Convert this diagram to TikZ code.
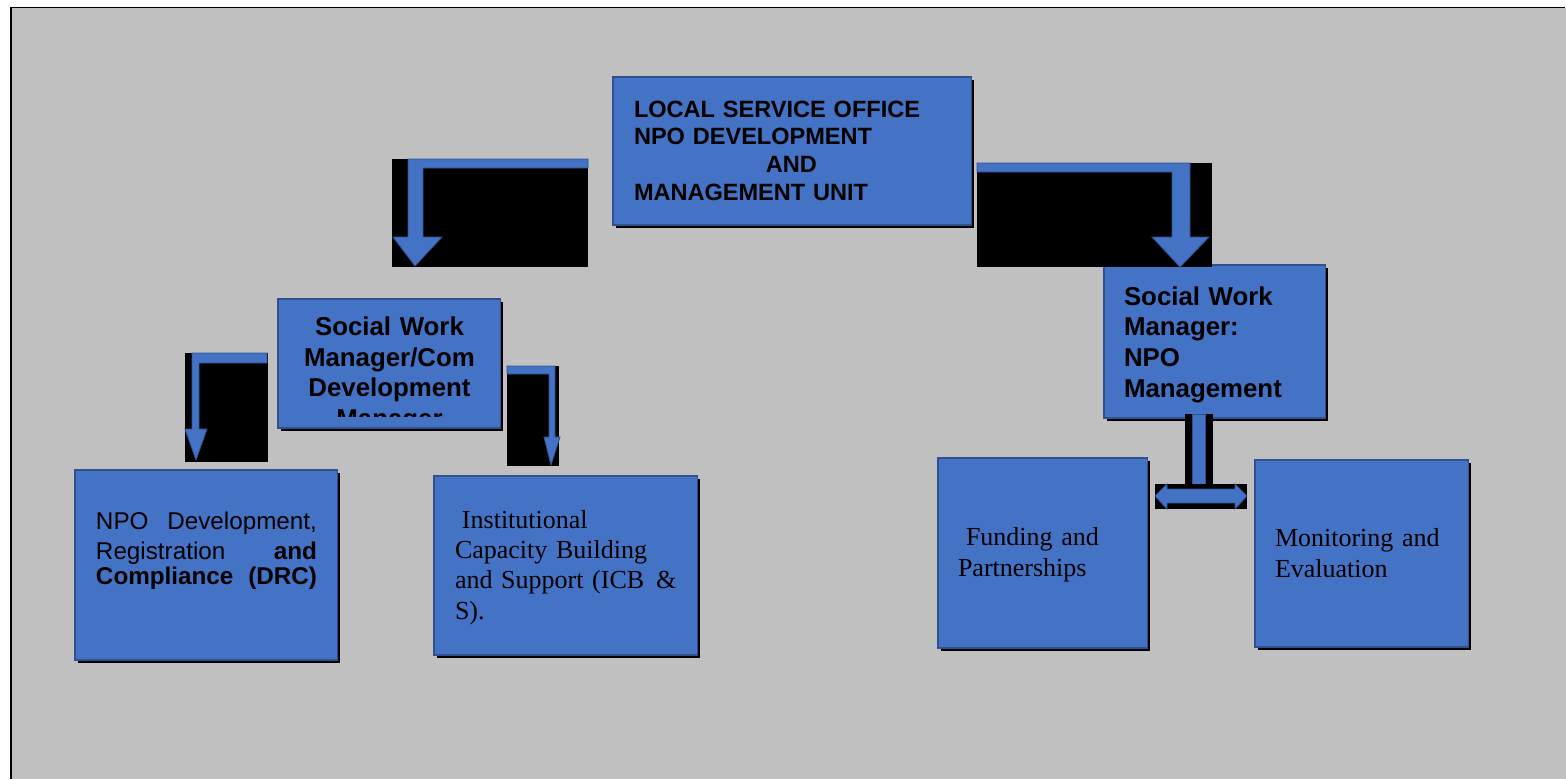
\documentclass[tikz,border=0pt]{standalone}
\usepackage{fontspec}
\setmainfont{Liberation Serif}
\setsansfont{Liberation Sans}
\usetikzlibrary{shadows}
\definecolor{UnitBlue}{HTML}{4472C4}
\definecolor{UnitEdge}{HTML}{2F528F}
\definecolor{SlideGray}{HTML}{C0C0C0}
\tikzset{
  unit/.style={draw=UnitEdge,fill=UnitBlue,line width=0.6pt,anchor=north west,
    inner ysep=0pt,outer sep=0pt,align=left,
    drop shadow={fill=black,opacity=1,shadow xshift=0.05cm,shadow yshift=-0.06cm}},
  backing/.style={fill=black,anchor=north west,inner sep=0pt,outer sep=0pt},
  blockarrow/.style={fill=UnitBlue,draw=UnitEdge,line width=0.5pt,line join=miter},
  headfont/.style={font=\sffamily\bfseries\fontsize{13.4}{15.9}\selectfont},
  mgrfont/.style={font=\sffamily\bfseries\fontsize{14.7}{17.5}\selectfont},
  plainsans/.style={font=\sffamily\fontsize{13.8}{17.6}\selectfont},
  plainserif/.style={font=\rmfamily\fontsize{14.8}{17.3}\selectfont}
}
\begin{document}
\begin{tikzpicture}[x=0.02cm,y=-0.02cm]
    \useasboundingbox (0,0) rectangle (1566,779);
    \fill[white] (0,0) rectangle (1566,779);
    \fill[SlideGray] (11,8) rectangle (1566,779);
    \draw[line width=1pt] (11,779) -- (11,7.5) -- (1565,7.5);

    \node[unit,headfont,inner xsep=0.42cm,text width=6.34cm,
          text height=0.8cm,text depth=2.16cm]
      (office) at (613,77) {LOCAL SERVICE OFFICE\\NPO DEVELOPMENT\\\hspace*{2.64cm}AND\\MANAGEMENT UNIT};
    \node[unit,inner sep=0pt,minimum width=4.46cm,minimum height=2.58cm]
      (devmgr) at (278,299) {};
    \begin{scope}
      \clip (devmgr.north west) rectangle ([yshift=-2.36cm]devmgr.north east);
      \node[mgrfont,anchor=north,align=center,inner sep=0pt,text width=4.46cm,text height=0.72cm]
        (devmgrtext) at (devmgr.north) {Social Work\\Manager/Com\\Development\\Manager};
    \end{scope}
    \node[unit,mgrfont,inner xsep=0.4cm,text width=3.64cm,
          text height=0.8cm,text depth=2.26cm]
      (npomgr) at (1104,265) {Social Work\\Manager:\\NPO\\Management};
    \node[unit,plainsans,inner xsep=0.42cm,text width=4.42cm,
          text height=1.18cm,text depth=2.62cm]
      (drc) at (75,470) {NPO\hfill Development,\\Registration\hfill\textbf{and}\\[-0.12cm]\textbf{Compliance\hfill(DRC)}};
    \node[unit,plainserif,inner xsep=0.42cm,text width=4.44cm,
          text height=1.04cm,text depth=2.54cm]
      (icb) at (434,476) {\hspace*{0.14cm}Institutional\\Capacity Building\\\mbox{and Support (ICB\hspace{0.24cm}\&}\\S).};
    \node[unit,plainserif,inner xsep=0.4cm,text width=3.4cm,
          text height=1.76cm,text depth=2.04cm]
      (funding) at (938,458) {\hspace*{0.16cm}Funding and\\Partnerships};
    \node[unit,plainserif,inner xsep=0.4cm,text width=3.48cm,
          text height=1.74cm,text depth=2.0cm]
      (monitor) at (1255,460) {Monitoring and\\Evaluation};

    \node[backing,minimum width=3.92cm,minimum height=2.16cm] (lback) at (392,159) {};
    \begin{scope}[shift={(lback.north west)}]
      \draw[blockarrow] (196,0) -- (16,0) -- (16,78) -- (1,78) -- (23,107) -- (50,78)
        -- (31,78) -- (31,9) -- (196,9) -- cycle;
    \end{scope}
    \node[backing,minimum width=4.7cm,minimum height=2.08cm] (rback) at (977,163) {};
    \begin{scope}[shift={(rback.north west)}]
      \draw[blockarrow] (0,0) -- (213,0) -- (213,74) -- (232,74) -- (203,104) -- (175,74)
        -- (195,74) -- (195,9) -- (0,9) -- cycle;
    \end{scope}
    \node[backing,minimum width=1.66cm,minimum height=2.18cm] (drcback) at (185,353) {};
    \begin{scope}[shift={(drcback.north west)}]
      \draw[blockarrow] (82,0) -- (7,0) -- (7,76) -- (0,76) -- (11,107) -- (22,76)
        -- (14,76) -- (14,10) -- (82,10) -- cycle;
    \end{scope}
    \node[backing,minimum width=1.04cm,minimum height=2.0cm] (icbback) at (507,366) {};
    \begin{scope}[shift={(icbback.north west)}]
      \draw[blockarrow] (0,0) -- (48,0) -- (48,71) -- (53,71) -- (44,99) -- (37,71)
        -- (42,71) -- (42,8) -- (0,8) -- cycle;
    \end{scope}
    \node[backing,minimum width=0.56cm,minimum height=1.4cm] (stemback) at (1185,414) {};
    \begin{scope}[shift={(stemback.north west)}]
      \draw[blockarrow] (7,0) rectangle (20,70);
    \end{scope}
    \node[backing,minimum width=1.84cm,minimum height=0.5cm] (pairback) at (1155,484) {};
    \begin{scope}[shift={(pairback.north west)}]
      \draw[blockarrow] (0,12) -- (12,0) -- (12,5) -- (80,5) -- (80,0) -- (92,12)
        -- (80,25) -- (80,19) -- (12,19) -- (12,25) -- cycle;
    \end{scope}
  \end{tikzpicture}
\end{document}
